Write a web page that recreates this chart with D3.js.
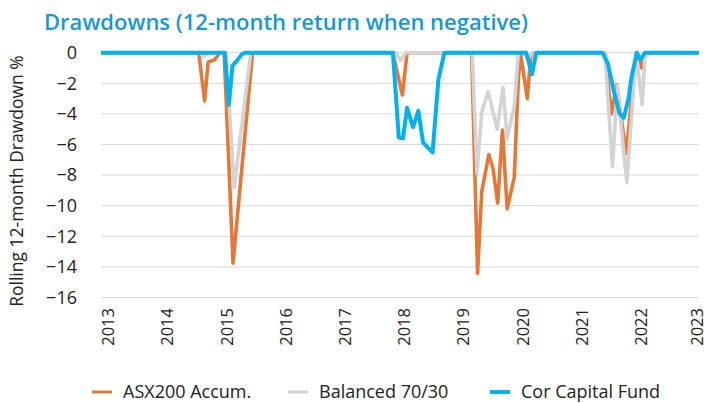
<!DOCTYPE html>
<html>
<head>
<meta charset="utf-8">
<script src="https://cdn.jsdelivr.net/npm/d3@7"></script>
<style>
  body { margin: 0; background: #fff; }
  svg { display: block; }
</style>
</head>
<body>
<script>
var width = 709
var height = 403

// drawdown data, x in decimal years, y in % (0 when 12m return positive)
var asxYears = [2012.87, 2014.52, 2014.62, 2014.68, 2014.73, 2014.79, 2014.86, 2014.91, 2014.95, 2015.10, 2015.43,
  2017.80, 2017.96, 2018.04,
  2019.13, 2019.23, 2019.30, 2019.42, 2019.49, 2019.57, 2019.65, 2019.73, 2019.85, 2019.92, 2019.96, 2020.07, 2020.13, 2020.20,
  2021.38, 2021.49, 2021.58, 2021.74, 2021.91, 2022.00, 2022.05, 2022.97]
var asxValues = [0, 0, -3.15, -0.6, -0.55, -0.45, -0.1, 0, 0, -13.75, 0,
  0, -2.77, 0,
  0, -14.42, -9.1, -6.66, -7.55, -9.82, -5.05, -10.2, -8.15, -1.6, -0.15, -3.0, -0.1, 0,
  0, -4.0, -2.1, -6.6, 0, -1.0, 0, 0]

var balYears = [2012.87, 2014.54, 2014.60, 2014.67, 2014.98, 2015.12, 2015.40,
  2017.85, 2017.93, 2018.02,
  2019.14, 2019.22, 2019.30, 2019.41, 2019.56, 2019.66, 2019.73, 2019.85, 2019.92, 2020.01, 2020.08, 2020.15,
  2021.38, 2021.51, 2021.59, 2021.75, 2021.91, 2022.01, 2022.06, 2022.97]
var balValues = [0, 0, -0.25, 0, 0, -8.8, 0,
  0, -0.5, 0,
  0, -7.9, -3.9, -2.55, -5.0, -2.27, -5.6, -3.5, 0, 0, -0.4, 0,
  0, -7.45, -2.15, -8.5, 0, -3.4, 0, 0]

var corYears = [2012.87, 2014.96, 2015.03, 2015.09, 2015.17, 2015.25, 2015.30,
  2017.80, 2017.90, 2017.97, 2018.04, 2018.14, 2018.23, 2018.31, 2018.47, 2018.57, 2018.67,
  2020.05, 2020.15, 2020.22,
  2021.34, 2021.43, 2021.53, 2021.63, 2021.70, 2021.78, 2021.83, 2021.92, 2021.98, 2022.06, 2022.97]
var corValues = [0, 0, -3.4, -0.85, -0.5, -0.1, 0,
  0, -5.55, -5.6, -3.6, -4.86, -3.8, -5.87, -6.52, -1.72, 0,
  0, -1.4, 0,
  0, -0.7, -2.5, -4.0, -4.25, -3.0, -1.6, 0, -0.45, 0, 0]

var yearTicks = [2013, 2014, 2015, 2016, 2017, 2018, 2019, 2020, 2021, 2022, 2023]
var valueTicks = [0, -2, -4, -6, -8, -10, -12, -14, -16]

var seriesNames = ['ASX200 Accum.', 'Balanced 70/30', 'Cor Capital Fund']
var seriesColors = ['#e2793a', '#d3d3d3', '#00b0f0']

var font = '"Open Sans", "Noto Sans", sans-serif'

var svg = d3.select('body').append('svg')
  .attr('width', width)
  .attr('height', height)

var x = d3.scaleLinear().domain([2012.87, 2022.97]).range([101, 699])
var y = d3.scaleLinear().domain([-16, 0]).range([297.5, 52.7])

// title
svg.append('text')
  .attr('x', 44)
  .attr('y', 30)
  .style('font-family', font)
  .style('font-size', '22px')
  .style('font-weight', 600)
  .style('fill', '#1897d3')
  .text('Drawdowns (12-month return when negative)')

// gridlines
svg.append('g')
  .selectAll('line')
  .data(valueTicks)
  .enter()
  .append('line')
  .attr('x1', 101)
  .attr('x2', 699)
  .attr('y1', (d) => y(d))
  .attr('y2', (d) => y(d))
  .style('stroke', '#d9d9d9')
  .style('stroke-width', 1)

// y axis labels
var yAxis = svg.append('g')
  .attr('transform', 'translate(77,0)')
  .call(d3.axisLeft(y).tickValues(valueTicks).tickSize(0).tickPadding(0).tickFormat(d3.format('d')))
yAxis.select('.domain').remove()
yAxis.selectAll('text')
  .style('font-family', font)
  .style('font-size', '18px')
  .style('fill', '#222')

// x axis labels, rotated
var xAxis = svg.append('g')
  .attr('transform', 'translate(0,308)')
  .call(d3.axisBottom(x).tickValues(yearTicks).tickSize(0).tickFormat(d3.format('d')))
xAxis.select('.domain').remove()
xAxis.selectAll('text')
  .attr('transform', (d) => d == 2023 ? 'translate(-3,0) rotate(-90)' : 'rotate(-90)') // last one sits on the edge
  .attr('x', 0)
  .attr('y', 0)
  .attr('dy', '0.3em')
  .style('text-anchor', 'end')
  .style('font-family', font)
  .style('font-size', '16.5px')
  .style('fill', '#222')

// y title
svg.append('text')
  .attr('transform', 'translate(23,181) rotate(-90)')
  .style('text-anchor', 'middle')
  .style('font-family', font)
  .style('font-size', '17.5px')
  .style('fill', '#222')
  .text('Rolling 12-month Drawdown %')

var line = d3.line()
  .x((d) => x(d[0]))
  .y((d) => y(d[1]))

var series = [
  d3.zip(asxYears, asxValues),
  d3.zip(balYears, balValues),
  d3.zip(corYears, corValues)
]

svg.append('g')
  .selectAll('path')
  .data(series)
  .enter()
  .append('path')
  .attr('d', (d) => line(d))
  .style('fill', 'none')
  .style('stroke', (d, i) => seriesColors[i])
  .style('stroke-width', (d, i) => i == 2 ? 4 : 3.6)
  .style('stroke-linejoin', 'round')

// legend
var legendX = [92, 288, 490]
var legend = svg.append('g')
  .selectAll('g')
  .data(seriesNames)
  .enter()
  .append('g')
  .attr('transform', (d, i) => 'translate(' + legendX[i] + ',392)')

legend.append('line')
  .attr('x1', 0)
  .attr('x2', 20)
  .style('stroke', (d, i) => seriesColors[i])
  .style('stroke-width', (d, i) => i == 2 ? 4 : 3)

legend.append('text')
  .attr('x', 31)
  .attr('dy', '0.35em')
  .style('font-family', font)
  .style('font-size', '18px')
  .style('fill', '#222')
  .text((d) => d)
</script>
</body>
</html>
